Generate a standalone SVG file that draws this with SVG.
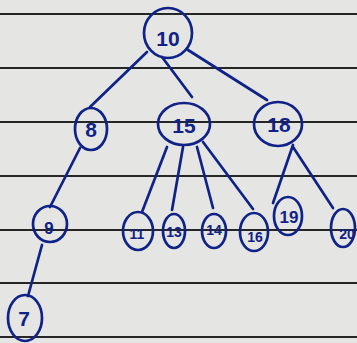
<svg xmlns="http://www.w3.org/2000/svg" width="357" height="343" viewBox="0 0 357 343">
  <style>
    .rule { stroke: #262626; stroke-width: 1.8; }
    .ink { fill: none; stroke: #0f2288; stroke-width: 2.7; stroke-linecap: round; }
    .lbl { fill: #0f2288; font-family: "Liberation Sans", "DejaVu Sans", sans-serif; text-anchor: middle; dominant-baseline: central; font-weight: bold; }
    .big { font-size: 21px; }
    .mid { font-size: 17px; }
    .sm { font-size: 14px; }
  </style>
  <!-- paper -->
  <rect width="357" height="343" fill="#e5e5e3"/>
  <g id="ruled-lines">
    <line class="rule" x1="0" y1="14" x2="357" y2="14"/>
    <line class="rule" x1="0" y1="68" x2="357" y2="68"/>
    <line class="rule" x1="0" y1="122" x2="357" y2="122"/>
    <line class="rule" x1="0" y1="176" x2="357" y2="176"/>
    <line class="rule" x1="0" y1="230" x2="357" y2="230"/>
    <line class="rule" x1="0" y1="283" x2="357" y2="283"/>
    <line class="rule" x1="0" y1="337" x2="357" y2="337"/>
  </g>
  <g id="connectors">
    <line class="ink" x1="147" y1="52" x2="90" y2="107"/>
    <line class="ink" x1="162" y1="57" x2="192" y2="97"/>
    <line class="ink" x1="188" y1="50" x2="267" y2="100"/>
    <line class="ink" x1="80" y1="148" x2="50" y2="207"/>
    <line class="ink" x1="42" y1="245" x2="28" y2="296"/>
    <line class="ink" x1="167" y1="147" x2="142" y2="212"/>
    <line class="ink" x1="183" y1="147" x2="172" y2="210"/>
    <line class="ink" x1="197" y1="147" x2="213" y2="208"/>
    <line class="ink" x1="203" y1="142" x2="253" y2="209"/>
    <line class="ink" x1="293" y1="145" x2="273" y2="203"/>
    <line class="ink" x1="293" y1="147" x2="333" y2="208"/>
  </g>
  <g id="n10"><ellipse class="ink" cx="168" cy="33" rx="24" ry="25"/><text class="lbl big" x="168" y="38">10</text></g>
  <g id="n8"><ellipse class="ink" cx="91" cy="129" rx="16" ry="21"/><text class="lbl big" x="91" y="129">8</text></g>
  <g id="n15"><ellipse class="ink" cx="184" cy="124" rx="26" ry="21"/><text class="lbl big" x="184" y="125">15</text></g>
  <g id="n18"><ellipse class="ink" cx="278" cy="124" rx="24" ry="22"/><text class="lbl big" x="279" y="124">18</text></g>
  <g id="n9"><ellipse class="ink" cx="50" cy="224" rx="17" ry="18"/><text class="lbl mid" x="49" y="228">9</text></g>
  <g id="n7"><ellipse class="ink" cx="25" cy="318" rx="17" ry="23"/><text class="lbl big" x="24" y="318">7</text></g>
  <g id="n11"><ellipse class="ink" cx="138" cy="231" rx="15" ry="19"/><text class="lbl sm" x="137" y="234">11</text></g>
  <g id="n13"><ellipse class="ink" cx="174" cy="231" rx="11" ry="17"/><text class="lbl sm" x="174" y="232">13</text></g>
  <g id="n14"><ellipse class="ink" cx="214" cy="231" rx="12" ry="17"/><text class="lbl sm" x="214" y="230">14</text></g>
  <g id="n16"><ellipse class="ink" cx="254" cy="232" rx="14" ry="19"/><text class="lbl sm" x="255" y="237">16</text></g>
  <g id="n19"><ellipse class="ink" cx="288" cy="216" rx="14" ry="19"/><text class="lbl mid" x="289" y="217">19</text></g>
  <g id="n20"><ellipse class="ink" cx="343" cy="228" rx="12" ry="19"/><text class="lbl sm" x="347" y="234">20</text></g>
</svg>
